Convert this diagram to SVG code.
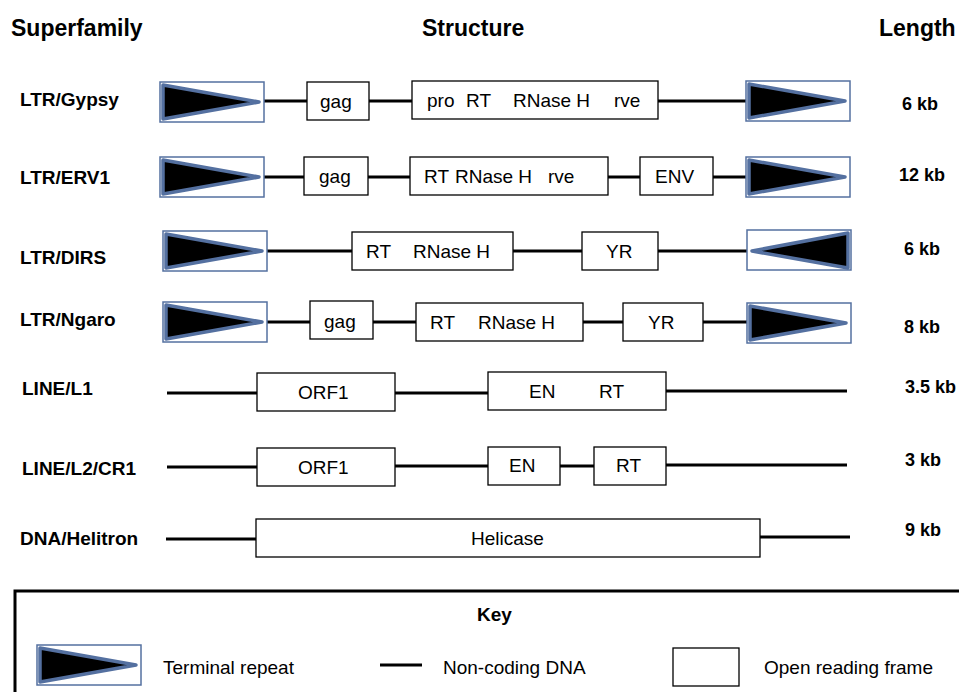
<svg xmlns="http://www.w3.org/2000/svg" width="959" height="692" viewBox="0 0 959 692">
<style>
text{font-family:"Liberation Sans",Arial,sans-serif;fill:#000}
.h{font-size:23px;font-weight:bold}
.lab{font-size:19px;font-weight:bold}
.len{font-size:18px;font-weight:bold}
.t{font-size:19px}
.orf{fill:#fff;stroke:#000;stroke-width:1.3}
.ltrbox{fill:#fff;stroke:#5470A0;stroke-width:1.5}
.tri{fill:#000;stroke:#5470A0;stroke-width:3.5;stroke-linejoin:round}
.dna{stroke:#000;stroke-width:3;fill:none}
</style>
<defs>
<g id="ltrR">
<rect class="ltrbox" x="0" y="0" width="104" height="40"/>
<polygon class="tri" points="3,3 99,20 3,37"/>
</g>
<g id="ltrL">
<rect class="ltrbox" x="0" y="0" width="104" height="40"/>
<polygon class="tri" points="101,3 5,21 101,38"/>
</g>
</defs>
<rect width="959" height="692" fill="#fff"/>
<g id="headers">
<text class="h" x="11" y="36">Superfamily</text>
<text class="h" x="422" y="36">Structure</text>
<text class="h" x="879" y="36">Length</text>
</g>
<g id="connectors">
<line class="dna" x1="264" y1="101" x2="307" y2="101"/>
<line class="dna" x1="369" y1="101" x2="412" y2="101"/>
<line class="dna" x1="658" y1="101" x2="746" y2="101"/>
<line class="dna" x1="264" y1="177" x2="304" y2="177"/>
<line class="dna" x1="368" y1="177" x2="410" y2="177"/>
<line class="dna" x1="608" y1="177" x2="640" y2="177"/>
<line class="dna" x1="713" y1="177" x2="746" y2="177"/>
<line class="dna" x1="267" y1="251" x2="352" y2="251"/>
<line class="dna" x1="513" y1="251" x2="582" y2="251"/>
<line class="dna" x1="658" y1="251" x2="747" y2="251"/>
<line class="dna" x1="267" y1="322" x2="310" y2="322"/>
<line class="dna" x1="373" y1="322" x2="416" y2="322"/>
<line class="dna" x1="583" y1="322" x2="623" y2="322"/>
<line class="dna" x1="703" y1="322" x2="747" y2="322"/>
<line class="dna" x1="167" y1="393" x2="257" y2="393"/>
<line class="dna" x1="395" y1="393" x2="488" y2="393"/>
<line class="dna" x1="666" y1="391" x2="847" y2="391"/>
<line class="dna" x1="167" y1="467" x2="257" y2="467"/>
<line class="dna" x1="395" y1="466" x2="488" y2="466"/>
<line class="dna" x1="560" y1="466" x2="594" y2="466"/>
<line class="dna" x1="666" y1="465" x2="847" y2="465"/>
<line class="dna" x1="166" y1="539" x2="256" y2="539"/>
<line class="dna" x1="760" y1="537" x2="850" y2="537"/>
</g>
<g id="row-gypsy">
<text class="lab" x="20" y="106">LTR/Gypsy</text>
<use href="#ltrR" x="160" y="82"/>
<rect class="orf" x="307" y="82" width="62" height="38"/>
<text class="t" x="320" y="108">gag</text>
<rect class="orf" x="412" y="81" width="246" height="38"/>
<text class="t" x="427" y="107">pro</text>
<text class="t" x="466" y="107">RT</text>
<text class="t" x="513" y="107">RNase H</text>
<text class="t" x="614" y="107">rve</text>
<use href="#ltrR" x="746" y="81"/>
<text class="len" x="902" y="110">6 kb</text>
</g>
<g id="row-erv1">
<text class="lab" x="20" y="184">LTR/ERV1</text>
<use href="#ltrR" x="160" y="157"/>
<rect class="orf" x="304" y="157" width="64" height="38"/>
<text class="t" x="319" y="183">gag</text>
<rect class="orf" x="410" y="157" width="198" height="38"/>
<text class="t" x="424" y="183">RT</text>
<text class="t" x="455" y="183">RNase H</text>
<text class="t" x="548" y="183">rve</text>
<rect class="orf" x="640" y="157" width="73" height="38"/>
<text class="t" x="655" y="183">ENV</text>
<use href="#ltrR" x="746" y="157"/>
<text class="len" x="899" y="181">12 kb</text>
</g>
<g id="row-dirs">
<text class="lab" x="20" y="264">LTR/DIRS</text>
<use href="#ltrR" x="163" y="231"/>
<rect class="orf" x="352" y="232" width="161" height="38"/>
<text class="t" x="366" y="258">RT</text>
<text class="t" x="413" y="258">RNase H</text>
<rect class="orf" x="582" y="232" width="76" height="38"/>
<text class="t" x="606" y="258">YR</text>
<use href="#ltrL" x="747" y="230"/>
<text class="len" x="904" y="255">6 kb</text>
</g>
<g id="row-ngaro">
<text class="lab" x="20" y="326">LTR/Ngaro</text>
<use href="#ltrR" x="163" y="302"/>
<rect class="orf" x="310" y="301" width="63" height="38"/>
<text class="t" x="324" y="328">gag</text>
<rect class="orf" x="416" y="303" width="167" height="38"/>
<text class="t" x="430" y="329">RT</text>
<text class="t" x="478" y="329">RNase H</text>
<rect class="orf" x="623" y="303" width="80" height="38"/>
<text class="t" x="648" y="329">YR</text>
<use href="#ltrR" x="747" y="303"/>
<text class="len" x="904" y="333">8 kb</text>
</g>
<g id="row-l1">
<text class="lab" x="22" y="395">LINE/L1</text>
<rect class="orf" x="257" y="373" width="138" height="38"/>
<text class="t" x="298" y="399">ORF1</text>
<rect class="orf" x="488" y="372" width="178" height="38"/>
<text class="t" x="529" y="398">EN</text>
<text class="t" x="599" y="398">RT</text>
<text class="len" x="905" y="393">3.5 kb</text>
</g>
<g id="row-l2cr1">
<text class="lab" x="22" y="475">LINE/L2/CR1</text>
<rect class="orf" x="257" y="448" width="138" height="38"/>
<text class="t" x="298" y="474">ORF1</text>
<rect class="orf" x="488" y="447" width="72" height="38"/>
<text class="t" x="509" y="472">EN</text>
<rect class="orf" x="594" y="447" width="72" height="38"/>
<text class="t" x="616" y="472">RT</text>
<text class="len" x="905" y="466">3 kb</text>
</g>
<g id="row-helitron">
<text class="lab" x="20" y="545">DNA/Helitron</text>
<rect class="orf" x="256" y="519" width="504" height="38"/>
<text class="t" x="471" y="545">Helicase</text>
<text class="len" x="905" y="536">9 kb</text>
</g>
<g id="key">
<rect x="15" y="591" width="970" height="130" fill="none" stroke="#000" stroke-width="3"/>
<text class="lab" x="477" y="621">Key</text>
<use href="#ltrR" x="37" y="645"/>
<text class="t" x="163" y="674">Terminal repeat</text>
<line class="dna" x1="380" y1="665" x2="422" y2="665"/>
<text class="t" x="443" y="674">Non-coding DNA</text>
<rect class="orf" x="673" y="648" width="66" height="38"/>
<text class="t" x="764" y="674">Open reading frame</text>
</g>
</svg>
